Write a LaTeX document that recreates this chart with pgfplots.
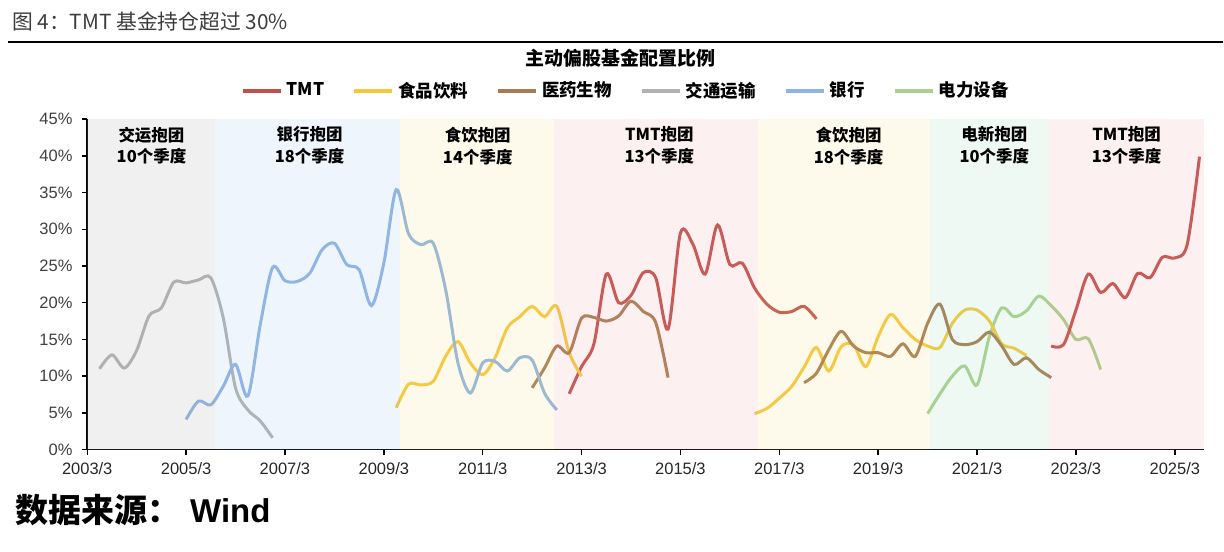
\documentclass[border=0pt]{standalone}
\usepackage{pgfplots}
\pgfplotsset{compat=1.18}
\usepackage{fontspec}
\setmainfont{Liberation Sans}
\newfontfamily\cjk{Noto Sans CJK SC}
\definecolor{cTMT}{RGB}{192,80,77}
\definecolor{cFood}{RGB}{245,200,60}
\definecolor{cMed}{RGB}{166,124,82}
\definecolor{cTrans}{RGB}{178,178,178}
\definecolor{cBank}{RGB}{141,180,226}
\definecolor{cPow}{RGB}{169,208,142}
\definecolor{bGray}{RGB}{168,168,168}
\definecolor{bBlue}{RGB}{148,188,235}
\definecolor{bYel}{RGB}{242,215,122}
\definecolor{bPink}{RGB}{242,155,155}
\definecolor{bGreen}{RGB}{148,215,182}
\definecolor{titlegray}{RGB}{60,60,60}
\definecolor{tickgray}{RGB}{64,64,64}
\begin{document}
\begin{tikzpicture}
\path (0,0) rectangle (612pt,276pt);
\node[anchor=west, inner sep=0pt, text=titlegray, font=\cjk\fontsize{10.4}{12}\selectfont] at (5.85pt,265pt) {图 4：TMT 基金持仓超过 30\%};
\draw[line width=1.2pt] (4pt,255pt) -- (612pt,255pt);
\begin{axis}[
  at={(43.65pt,51pt)}, anchor=south west, scale only axis,
  width=558.85pt, height=165.35pt,
  xmin=0, xmax=90.35, ymin=0, ymax=45,
  axis x line*=bottom, axis y line*=left,
  axis line style={black, line width=0.85pt, -},
  tick align=outside, major tick length=2.85pt,
  tick style={black, line width=0.7pt},
  xtick={0,8,...,88},
  xticklabels={2003/3,2005/3,2007/3,2009/3,2011/3,2013/3,2015/3,2017/3,2019/3,2021/3,2023/3,2025/3},
  ytick={0,5,...,45},
  yticklabel={\pgfmathprintnumber{\tick}\%},
  /pgf/number format/assume math mode=true,
  ticklabel style={font=\fontsize{8.25}{10}\selectfont},
  xticklabel style={text=black!85},
  yticklabel style={text=tickgray, xshift=-1pt},
  legend columns=6,
  legend style={at={(0.483,1.0856)}, anchor=center, draw=none, fill=none,
    font=\cjk\bfseries\fontsize{8.75}{10}\selectfont,
    /tikz/every even column/.append style={column sep=12pt}},
  legend image code/.code={\draw[line width=2pt] (0pt,0pt) -- (19pt,0pt);},
  every axis plot/.append style={line width=1.5pt, smooth, tension=0.5, mark=none},
]
% TMT segment 1
\addplot[cTMT] coordinates {(39,7.6)(40,11.3)(41,14.4)(42,23.9)(43,20.0)(44,21.0)(45,24.1)(46,23.4)(47,16.4)(48,29.5)(49,28.0)(50,23.9)(51,30.6)(52,25.2)(53,25.4)(54,22.0)(55,19.8)(56,18.7)(57,18.8)(58,19.5)(59,17.8)};
\addlegendentry{TMT}
\addplot[cFood] coordinates {(25,5.7)(26,8.9)(27,8.8)(28,9.3)(29,12.7)(30,14.7)(31,11.8)(32,10.2)(33,12.5)(34,16.6)(35,18.1)(36,19.5)(37,18.1)(38,19.5)(39,13.2)(40,10.0)};
\addlegendentry{食品饮料}
\addplot[cMed] coordinates {(36,8.4)(37,11.1)(38,14.1)(39,13.2)(40,17.9)(41,18.0)(42,17.5)(43,18.2)(44,20.2)(45,18.8)(46,17.3)(47,9.8)};
\addlegendentry{医药生物}
\addplot[cTrans] coordinates {(1,11.0)(2,12.9)(3,11.1)(4,13.5)(5,18.2)(6,19.3)(7,22.8)(8,22.7)(9,23.1)(10,23.4)(11,18.0)(12,8.4)(13,5.4)(14,3.9)(15,1.6)};
\addlegendentry{交通运输}
\addplot[cBank] coordinates {(8,4.1)(9,6.6)(10,6.1)(11,8.6)(12,11.6)(13,7.3)(14,17.0)(15,24.8)(16,23.0)(17,22.9)(18,24.0)(19,27.2)(20,28.1)(21,25.2)(22,24.5)(23,19.6)(24,25.4)(25,35.4)(26,29.4)(27,27.9)(28,28.1)(29,21.8)(30,11.8)(31,7.7)(32,11.8)(33,12.0)(34,10.7)(35,12.5)(36,12.2)(37,7.7)(38,5.4)};
\addlegendentry{银行}
\addplot[cPow] coordinates {(68,4.9)(69,7.6)(70,10.0)(71,11.4)(72,8.8)(73,15.4)(74,19.3)(75,18.1)(76,18.9)(77,20.9)(78,19.6)(79,17.7)(80,15.0)(81,15.1)(82,10.9)};
\addlegendentry{电力设备}
\addplot[cFood, forget plot] coordinates {(54,4.9)(55,5.6)(56,7.0)(57,8.6)(58,11.2)(59,13.9)(60,10.7)(61,14.0)(62,14.3)(63,11.3)(64,15.4)(65,18.4)(66,16.6)(67,15.0)(68,14.1)(69,13.9)(70,17.2)(71,19.0)(72,19.0)(73,17.5)(74,14.4)(75,13.8)(76,12.8)};
\addplot[cMed, forget plot] coordinates {(58,9.1)(59,10.4)(60,13.6)(61,16.1)(62,14.1)(63,13.2)(64,13.2)(65,12.7)(66,14.4)(67,12.7)(68,17.2)(69,19.8)(70,15.0)(71,14.3)(72,14.7)(73,16.0)(74,14.1)(75,11.6)(76,12.5)(77,10.9)(78,9.8)};
\addplot[cTMT, forget plot] coordinates {(78,14.1)(79,14.3)(80,19.0)(81,23.9)(82,21.4)(83,22.6)(84,20.7)(85,24.0)(86,23.4)(87,26.2)(88,26.1)(89,27.9)(90,39.9)};
% shaded bands (on top, translucent)
\addplot[draw=none, fill=bGray, fill opacity=0.17, forget plot, sharp plot] coordinates {(0,45)(10.32,45)} \closedcycle;
\addplot[draw=none, fill=bBlue, fill opacity=0.15, forget plot, sharp plot] coordinates {(10.32,45)(25.34,45)} \closedcycle;
\addplot[draw=none, fill=bYel, fill opacity=0.15, forget plot, sharp plot] coordinates {(25.34,45)(37.75,45)} \closedcycle;
\addplot[draw=none, fill=bPink, fill opacity=0.15, forget plot, sharp plot] coordinates {(37.75,45)(54.24,45)} \closedcycle;
\addplot[draw=none, fill=bYel, fill opacity=0.15, forget plot, sharp plot] coordinates {(54.24,45)(68.2,45)} \closedcycle;
\addplot[draw=none, fill=bGreen, fill opacity=0.15, forget plot, sharp plot] coordinates {(68.2,45)(77.82,45)} \closedcycle;
\addplot[draw=none, fill=bPink, fill opacity=0.15, forget plot, sharp plot] coordinates {(77.82,45)(90.35,45)} \closedcycle;
% band labels
\begin{scope}[every node/.style={align=center, font=\cjk\bfseries\fontsize{8.25}{11}\selectfont, inner sep=0pt}]
\node at (axis cs:5.2,41.4) {交运抱团\\10个季度};
\node at (axis cs:18.0,41.4) {银行抱团\\18个季度};
\node at (axis cs:31.6,41.4) {食饮抱团\\14个季度};
\node at (axis cs:46.3,41.4) {TMT抱团\\13个季度};
\node at (axis cs:61.6,41.4) {食饮抱团\\18个季度};
\node at (axis cs:73.4,41.4) {电新抱团\\10个季度};
\node at (axis cs:84.1,41.4) {TMT抱团\\13个季度};
\end{scope}
\end{axis}
\node[font=\cjk\bfseries\fontsize{9.5}{11}\selectfont] at (310.5pt,247pt) {主动偏股基金配置比例};
\node[anchor=west, inner sep=0pt, font=\cjk\bfseries\fontsize{16.5}{18}\selectfont] at (7.5pt,20.5pt) {数据来源：\hspace{5pt}{\rmfamily\bfseries Wind}};
\end{tikzpicture}
\end{document}
